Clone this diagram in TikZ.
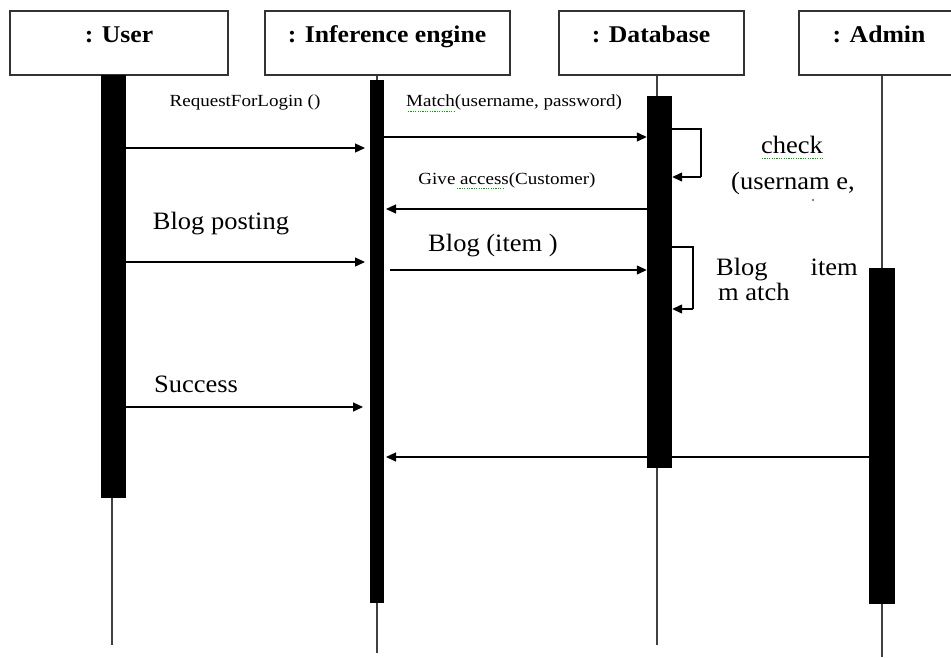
\documentclass[tikz,border=0pt]{standalone}
\usepackage{fontspec}
\setmainfont{Liberation Serif}
\newfontfamily\hdrfont[FakeStretch=1.07]{Liberation Serif}
\newfontfamily\smlfont[FakeStretch=1.12]{Liberation Serif}
\newfontfamily\bigfont[FakeStretch=1.06]{Liberation Serif}
\usetikzlibrary{arrows.meta}
\begin{document}
\begin{tikzpicture}[x=1pt,y=-1pt,
  objbox/.style={draw=black!80,line width=1.6pt,fill=white,inner sep=0pt},
  hdr/.style={font=\hdrfont\fontsize{24}{26}\selectfont\bfseries,inner sep=0pt,anchor=base},
  bar/.style={fill=black,draw=none,inner sep=0pt},
  life/.style={draw=black!75,line width=1.2pt},
  msg/.style={draw=black,line width=1.3pt,-{Triangle[length=10pt,width=9pt]}},
  small/.style={font=\smlfont\fontsize{17}{19}\selectfont,inner sep=0pt,anchor=base},
  big/.style={font=\bigfont\fontsize{25}{27}\selectfont,inner sep=0pt,anchor=base},
  squig/.style={draw=green!65!black,line width=1pt,dash pattern=on 1.2pt off 1.2pt}]
\useasboundingbox (0,0) rectangle (951,657);
\clip (0,0) rectangle (951,657);
% object boxes
\node[objbox,minimum width=218pt,minimum height=64pt] (user) at (119,43) {};
\node[objbox,minimum width=245pt,minimum height=64pt] (inf) at (387.5,43) {};
\node[objbox,minimum width=185pt,minimum height=64pt] (db) at (651.5,43) {};
\node[objbox,minimum width=160pt,minimum height=64pt] (adm) at (879,43) {};
\node[hdr] (tuser) at (119,42) {: User};
\node[hdr] (tinf) at (387,42) {: Inference engine};
\node[hdr] (tdb) at (651,42) {: Database};
\node[hdr] (tadm) at (879,42) {: Admin};
% lifelines
\coordinate (uend) at (112,645);
\coordinate (iend) at (377,653);
\coordinate (dend) at (657,645);
\coordinate (aend) at (882,657);
% activation bars
\node[bar,minimum width=25pt,minimum height=423pt] (ubar) at (113.5,286.5) {};
\node[bar,minimum width=14pt,minimum height=523pt] (ibar) at (377,341.5) {};
\node[bar,minimum width=25pt,minimum height=372pt] (dbar) at (659.5,282) {};
\node[bar,minimum width=26pt,minimum height=336pt] (abar) at (882,436) {};
\draw[life] (ubar.south -| uend) -- (uend);
\draw[life] (inf.south -| iend) -- (ibar.north -| iend);
\draw[life] (ibar.south -| iend) -- (iend);
\draw[life] (db.south -| dend) -- (dbar.north -| dend);
\draw[life] (dbar.south -| dend) -- (dend);
\draw[life] (adm.south -| aend) -- (abar.north -| aend);
\draw[life] (abar.south -| aend) -- (aend);
% messages
\draw[msg] (ubar.east |- 0,148) -- (365,148);
\draw[msg] (ibar.east |- 0,137) -- (dbar.west |- 0,137);
\draw[line width=1.3pt] (dbar.east |- 0,129) -- (701,129) -- (701,177) coordinate (l1);
\draw[msg] (l1) -- (dbar.east |- l1);
\draw[msg] (dbar.west |- 0,209) -- (386,209);
\draw[msg] (ubar.east |- 0,262) -- (365,262);
\draw[msg] (390,270) -- (dbar.west |- 0,270);
\draw[line width=1.3pt] (dbar.east |- 0,247) -- (693,247) -- (693,309) coordinate (l2);
\draw[msg] (l2) -- (dbar.east |- l2);
\draw[msg] (ubar.east |- 0,407) -- (363,407);
\draw[msg] (abar.west |- 0,457) -- (386,457);
\node[bar,minimum width=25pt,minimum height=20pt] at (659.5,457) {};
% labels
\node[small] (m1) at (245,106) {RequestForLogin ()};
\node[small] (m2) at (514,106) {Match(username, password)};
\node[small] (m4) at (507,184) {Give access(Customer)};
\node[big] (m3a) at (792,153) {check};
\node[big] (m3b) at (793,189) {(usernam e,};
\fill[black!60!blue] (813,200) circle (0.9pt);
\node[big] (m5) at (221,229) {Blog posting};
\node[big] (m6) at (493,251) {Blog (item )};
\node[big,anchor=base west] (m7a) at (716,275) {Blog};
\node[big,anchor=base east] (m7b) at (858,275) {item};
\node[big,anchor=base west] (m7c) at (718,300) {m atch};
\node[big] (m8) at (196,392) {Success};
% spell-check marks
\draw[squig] (408,111) -- (455,111);
\draw[squig] (457,188) -- (503,188);
\draw[squig] (762,158) -- (823,158);
\end{tikzpicture}
\end{document}
